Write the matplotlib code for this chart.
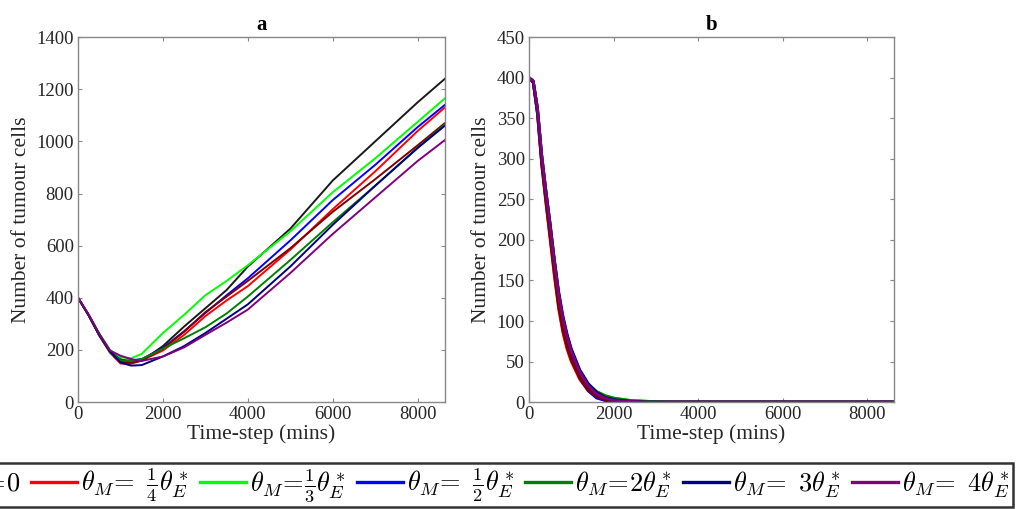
import numpy as np
import matplotlib
matplotlib.use("Agg")
import matplotlib.pyplot as plt
from matplotlib.ticker import MultipleLocator

plt.rcParams['font.family'] = ['Liberation Serif', 'DejaVu Serif']
plt.rcParams['mathtext.fontset'] = 'cm'

# ---------------- data ----------------
t_a = [0, 250, 500, 750, 1000, 1250, 1500, 2000, 2500, 3000, 3500, 4000, 5000, 6000, 7000, 8000, 8640]
a_black  = [400, 335, 262, 200, 165, 152, 158, 215, 290, 360, 430, 520, 665, 850, 1000, 1150, 1240]
a_red    = [400, 332, 255, 190, 148, 147, 160, 198, 258, 330, 390, 445, 585, 740, 885, 1040, 1130]
a_green  = [400, 335, 262, 200, 172, 168, 185, 265, 335, 410, 465, 525, 655, 805, 935, 1075, 1165]
a_blue   = [400, 333, 258, 195, 160, 160, 165, 208, 272, 342, 410, 475, 620, 775, 910, 1055, 1140]
a_maroon = [400, 333, 258, 195, 155, 150, 160, 205, 270, 345, 405, 465, 590, 730, 855, 985, 1070]
a_dgreen = [400, 334, 256, 192, 160, 158, 165, 205, 245, 287, 340, 405, 545, 690, 830, 975, 1065]
a_navy   = [400, 334, 258, 195, 152, 140, 142, 175, 215, 265, 320, 375, 520, 680, 830, 975, 1060]
a_purple = [400, 336, 262, 198, 178, 165, 158, 175, 210, 258, 305, 355, 495, 645, 785, 925, 1005]

t_b = [0, 100, 200, 300, 400, 500, 600, 700, 800, 900, 1000, 1200, 1400, 1600, 1800, 2000, 2400, 2800, 3200, 8640]
b_black  = [400, 395, 360, 300, 255, 212, 168, 128, 98, 76, 58, 33, 18, 9, 4, 2, 1, 0, 0, 0]
b_red    = [400, 394, 355, 292, 245, 200, 155, 115, 86, 65, 50, 28, 14, 6, 2, 1, 0, 0, 0, 0]
b_green  = [400, 396, 362, 305, 262, 220, 175, 135, 104, 82, 64, 38, 22, 13, 8, 5, 2, 1, 0, 0]
b_blue   = [400, 394, 356, 296, 250, 208, 165, 127, 98, 76, 58, 30, 14, 5, 2, 1, 0, 0, 0, 0]
b_maroon = [400, 394, 356, 294, 247, 203, 158, 118, 89, 68, 52, 30, 15, 7, 3, 1, 0, 0, 0, 0]
b_dgreen = [400, 396, 362, 304, 260, 218, 174, 134, 104, 82, 64, 38, 22, 13, 8, 5, 2, 1, 0, 0]
b_navy   = [400, 395, 362, 304, 260, 220, 176, 137, 107, 84, 66, 40, 23, 12, 6, 3, 1, 0, 0, 0]
b_purple = [400, 396, 363, 305, 260, 218, 174, 134, 104, 81, 63, 37, 20, 10, 5, 2, 1, 0, 0, 0]

labels = [r'$\theta_M\!=\!0$',
          r'$\theta_M\!=\ \frac{1}{4}\theta^*_E$',
          r'$\theta_M\!=\!\frac{1}{3}\theta^*_E$',
          r'$\theta_M\!=\ \frac{1}{2}\theta^*_E$',
          r'$\theta_M\!=\!2\theta^*_E$',
          r'$\theta_M\!=\ 3\theta^*_E$',
          r'$\theta_M\!=\ 4\theta^*_E$']

colors = {'black': '#1a1a1a', 'red': '#ff0000', 'green': '#00ff00', 'blue': '#0000ff',
          'maroon': '#800000', 'dgreen': '#008000', 'navy': '#000080', 'purple': '#800080'}

series_a = [('black', a_black, 0), ('red', a_red, 1), ('green', a_green, 2), ('blue', a_blue, 3),
            ('maroon', a_maroon, None), ('dgreen', a_dgreen, 4), ('navy', a_navy, 5), ('purple', a_purple, 6)]
series_b = [('black', b_black, 0), ('red', b_red, 1), ('green', b_green, 2), ('blue', b_blue, 3),
            ('maroon', b_maroon, None), ('dgreen', b_dgreen, 4), ('navy', b_navy, 5), ('purple', b_purple, 6)]

fig = plt.figure(figsize=(10.16, 5.09), dpi=100)
ax1 = fig.add_axes([0.0768, 0.210, 0.361, 0.717])
ax2 = fig.add_axes([0.5207, 0.210, 0.3593, 0.717])

spine_col = '#888888'
handles = {}
for ax, t, series, lw, ymax, ystep, title in [
        (ax1, t_a, series_a, 1.4, 1400, 200, 'a'),
        (ax2, t_b, series_b, 2.0, 450, 50, 'b')]:
    for key, vals, li in series:
        ln, = ax.plot(t, vals, color=colors[key], lw=lw)
        if li is not None and ax is ax1:
            handles[li] = ln
    ax.set_xlim(0, 8640)
    ax.set_ylim(0, ymax)
    ax.xaxis.set_major_locator(MultipleLocator(2000))
    ax.yaxis.set_major_locator(MultipleLocator(ystep))
    for s in ax.spines.values():
        s.set_color(spine_col)
        s.set_linewidth(1.0)
    ax.tick_params(direction='in', top=True, right=True, length=3, width=0.8,
                   color=spine_col, labelsize=13.5, labelcolor='#262626', pad=3)
    ax.set_xlabel('Time-step (mins)', fontsize=15.5, color='#262626', labelpad=1)
    ax.set_ylabel('Number of tumour cells', fontsize=15.5, color='#262626', labelpad=4)
    ax.set_title(title, fontsize=15, fontweight='bold', pad=5)

h = [handles[i] for i in range(7)]
leg = fig.legend(h, labels, loc='lower right', bbox_to_anchor=(0.997, 0.004),
                 ncol=7, fontsize=19, frameon=True, fancybox=False, borderaxespad=0,
                 handlelength=1.75, handletextpad=0.15, columnspacing=0.42,
                 borderpad=0.12)
for lh in leg.get_lines():
    lh.set_linewidth(2.4)
leg.get_frame().set_edgecolor('black')
leg.get_frame().set_linewidth(1.8)

fig.savefig('out.png', dpi=100)
